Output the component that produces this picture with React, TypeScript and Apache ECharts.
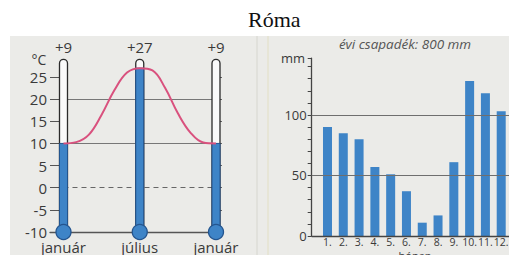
import React, { useEffect, useRef } from "react";
import * as echarts from "echarts";

// ---- Temperature panel (Róma) ----
const curveMonths = [0, 1, 2, 3, 4, 5, 6, 7, 8, 9, 10, 11, 12];
const curveTemps = [10, 10.3, 12, 16.5, 22, 26, 27, 26.5, 22.5, 16.8, 12.4, 10.2, 10];
const thermoX = [0, 6, 12];
const thermoFill = [10, 27, 10];
const thermoTopLabels = ["+9", "+27", "+9"];
const thermoNames = ["január", "július", "január"];
const tempGridLines = [20, 10];

// ---- Precipitation panel ----
const precipMonths = [1, 2, 3, 4, 5, 6, 7, 8, 9, 10, 11, 12];
const precipValues = [90, 85, 80, 57, 51, 37, 11, 17, 61, 128, 118, 103];
const precipGridLines = [100, 50];
const precipAxisName = "hónap";

const SANS = "'Open Sans', 'Noto Sans', sans-serif";
const TXT = "#3a3a3a";
const BLUE = "#3e84c7";
const BLUE_EDGE = "#24558f";

export default function App() {
  const ref = useRef<HTMLDivElement>(null);
  useEffect(() => {
    if (!ref.current) return;
    const chart = echarts.init(ref.current, null, { renderer: "svg" });
    const option: any = {
      animation: false,
      title: {
        text: "Róma",
        left: 243,
        top: 3,
        textStyle: { fontFamily: "'Liberation Serif', serif", fontSize: 22, fontWeight: "normal", color: "#111" },
      },
      graphic: [
        { type: "rect", z: -10, shape: { x: 10, y: 36, width: 507, height: 227 }, style: { fill: "#ebebe8" } },
        { type: "line", z: -9, shape: { x1: 257, y1: 36, x2: 257, y2: 263 }, style: { stroke: "#d6d6cf", lineWidth: 1 } },
        { type: "line", z: -9, shape: { x1: 268, y1: 36, x2: 268, y2: 263 }, style: { stroke: "#e2dfc4", lineWidth: 1 } },
        { type: "text", style: { text: "°C", x: 39, y: 59, align: "center", verticalAlign: "middle", fontSize: 14, fontFamily: SANS, fill: TXT } },
        { type: "text", style: { text: "mm", x: 305, y: 58, align: "right", verticalAlign: "middle", fontSize: 13, fontFamily: SANS, fill: TXT } },
        { type: "text", style: { text: "évi csapadék: 800 mm", x: 405, y: 44, align: "center", verticalAlign: "middle", fontSize: 13.5, fontStyle: "italic", fontFamily: SANS, fill: "#555" } },
        { type: "text", style: { text: precipAxisName, x: 415, y: 255.6, align: "center", verticalAlign: "middle", fontSize: 11, lineHeight: 11, fontFamily: SANS, fill: TXT } },
      ],
      grid: [
        { left: 50, right: 295, top: 77, bottom: 31, outerBoundsMode: "none", containLabel: false },
        { left: 311.7, right: 0, top: 58.1, bottom: 27, outerBoundsMode: "none", containLabel: false },
      ],
      xAxis: [
        {
          gridIndex: 0, type: "value", min: -1.062, max: 12.472,
          axisLine: { show: true, onZero: false, lineStyle: { color: "#555", width: 1.3 } },
          axisTick: { show: false }, axisLabel: { show: false }, splitLine: { show: false },
        },
        {
          gridIndex: 1, type: "value", min: 0, max: 13, interval: 1,
          axisLine: { show: false, onZero: false }, axisTick: { show: false }, splitLine: { show: false },
          axisLabel: {
            margin: 0, fontSize: 10.5, fontFamily: SANS, color: TXT, lineHeight: 11,
            formatter: (v: number) => (v >= 1 && v <= 12 ? v + "." : ""),
          },
        },
      ],
      yAxis: [
        {
          gridIndex: 0, type: "value", min: -10, max: 25, interval: 5,
          axisLine: { show: false, onZero: false },
          axisTick: { show: true, inside: true, length: 9, lineStyle: { color: "#555" } },
          axisLabel: { margin: 3, fontSize: 15, fontFamily: SANS, color: TXT },
          splitLine: { show: false },
        },
        {
          gridIndex: 0, type: "value", min: -10, max: 25, interval: 5, position: "right",
          axisLine: { show: false, onZero: false },
          axisTick: { show: true, inside: true, length: 3, lineStyle: { color: "#666" } },
          axisLabel: { show: false }, splitLine: { show: false },
        },
        {
          gridIndex: 1, type: "value", min: 0, max: 147, interval: 10,
          axisLine: { show: true, onZero: false, lineStyle: { color: "#444", width: 1.3 } },
          axisTick: { show: true, length: 4, lineStyle: { color: "#444" } },
          axisLabel: {
            margin: 5, fontSize: 13, fontFamily: SANS, color: TXT,
            formatter: (v: number) => (v % 50 === 0 ? String(v) : ""),
          },
          splitLine: { show: false },
        },
      ],
      series: [
        {
          type: "custom",
          xAxisIndex: 0, yAxisIndex: 0, z: 3, silent: true, clip: false,
          data: thermoX.map((x, i) => [x, thermoFill[i]]),
          renderItem: (params: any, api: any) => {
            const i = params.dataIndex;
            const x = api.value(0);
            const v = api.value(1);
            const [cx, yBase] = api.coord([x, -10]);
            const yTop = api.coord([x, 29])[1];
            const yFill = api.coord([x, v])[1];
            const w = 8;
            return {
              type: "group",
              children: [
                { type: "rect", shape: { x: cx - w / 2, y: yTop, width: w, height: yBase - yTop, r: [w / 2, w / 2, 0, 0] }, style: { fill: "#fafafa", stroke: "#2b2b2b", lineWidth: 1.3 } },
                { type: "rect", shape: { x: cx - w / 2, y: yFill, width: w, height: yBase - yFill }, style: { fill: BLUE, stroke: BLUE_EDGE, lineWidth: 1 } },
                { type: "circle", shape: { cx, cy: yBase, r: 7.5 }, style: { fill: BLUE, stroke: BLUE_EDGE, lineWidth: 1.3 } },
                { type: "text", style: { text: thermoTopLabels[i], x: cx, y: yTop - 12, align: "center", verticalAlign: "middle", fontSize: 15, fontFamily: SANS, fill: TXT } },
                { type: "text", style: { text: thermoNames[i], x: cx, y: yBase + 15, align: "center", verticalAlign: "middle", fontSize: 15, fontFamily: SANS, fill: TXT } },
              ],
            };
          },
        },
        {
          type: "line",
          xAxisIndex: 0, yAxisIndex: 0, z: 4, silent: true, clip: false,
          data: curveMonths.map((m, i) => [m, curveTemps[i]]),
          smooth: 0.4,
          showSymbol: false,
          lineStyle: { color: "#d9517e", width: 2 },
          markLine: {
            silent: true, symbol: "none", label: { show: false }, z: 1,
            data: [
              ...tempGridLines.map((g) => [
                { coord: [0, g], lineStyle: { color: "#777", width: 1, type: "solid" } },
                { coord: [12, g] },
              ]),
              [
                { coord: [0, 0], lineStyle: { color: "#666", width: 1, type: [5, 4] } },
                { coord: [12, 0] },
              ],
            ],
          },
        },
        {
          type: "bar",
          xAxisIndex: 1, yAxisIndex: 2, silent: true,
          data: precipMonths.map((m, i) => [m, precipValues[i]]),
          barWidth: 9,
          itemStyle: { color: BLUE },
          markLine: {
            silent: true, symbol: "none", label: { show: false },
            data: [
              ...precipGridLines.map((g) => ({ yAxis: g, lineStyle: { color: "#6e6e6e", width: 1.2, type: "solid" } })),
              [
                { coord: [0, 0], lineStyle: { color: "#444", width: 1.3, type: "solid" } },
                { coord: [12.55, 0] },
              ],
            ],
          },
        },
      ],
    };
    chart.setOption(option);
    return () => chart.dispose();
  }, []);
  return <div ref={ref} style={{ width: 517, height: 263, margin: -8 }} />;
}
